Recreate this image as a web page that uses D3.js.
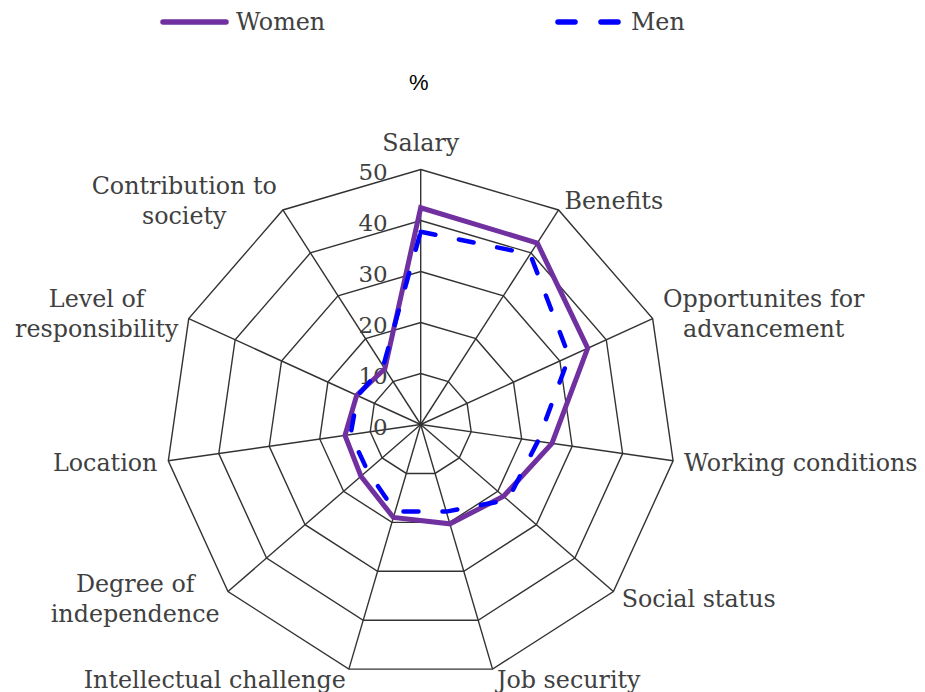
<!DOCTYPE html>
<html>
<head>
<meta charset="utf-8">
<script src="https://cdn.jsdelivr.net/npm/d3@7"></script>
<style>
  html, body { margin: 0; padding: 0; background: #fff; }
  svg { display: block; }
</style>
</head>
<body>
<svg id="chart" width="925" height="692"></svg>
<script>
// ---- data ----
const categories = ["Salary", "Benefits", "Opportunites for advancement", "Working conditions",
  "Social status", "Job security", "Intellectual challenge", "Degree of independence",
  "Location", "Level of responsibility", "Contribution to society"];
const categoryLines = [["Salary"], ["Benefits"], ["Opportunites for", "advancement"], ["Working conditions"],
  ["Social status"], ["Job security"], ["Intellectual challenge"], ["Degree of", "independence"],
  ["Location"], ["Level of", "responsibility"], ["Contribution to", "society"]];
const women = [42.5, 42.3, 36, 26, 21.5, 20.3, 19, 15.5, 15, 13.8, 13];
const men   = [37.8, 39.7, 32, 23.2, 22.6, 17.8, 17.8, 13.8, 13.9, 13.6, 13.6];
const tickValues = [0, 10, 20, 30, 40, 50];
const seriesNames = ["Women", "Men"];
const unitLabel = "%";

// ---- layout ----
const svg = d3.select("#chart");
const cx = 420.7, cy = 424.5, R = 255;
const serif = "'DejaVu Serif', serif";
const textColor = "#404040";
const gridColor = "#333333";
const womenColor = "#7030A0";
const menColor = "#0000FF";
const fs = 23.8;

const r = d3.scaleLinear().domain([0, 50]).range([0, R]);
const step = 2 * Math.PI / categories.length;
const ang = (i) => i * step;

const g = svg.append("g").attr("transform", `translate(${cx},${cy})`);

// rings
const ringLine = d3.lineRadial().angle((d, i) => ang(i)).radius(d => r(d)).curve(d3.curveLinearClosed);
tickValues.filter(v => v > 0).forEach(v => {
  g.append("path")
    .attr("d", ringLine(categories.map(() => v)))
    .attr("fill", "none")
    .attr("stroke", gridColor)
    .attr("stroke-width", 1.4);
});
// spokes
categories.forEach((c, i) => {
  const a = ang(i);
  g.append("line")
    .attr("x1", 0).attr("y1", 0)
    .attr("x2", r(50) * Math.sin(a)).attr("y2", -r(50) * Math.cos(a))
    .attr("stroke", gridColor)
    .attr("stroke-width", 1.4);
});

// tick labels
tickValues.forEach(v => {
  g.append("text")
    .attr("x", -33)
    .attr("y", -r(v) + 2)
    .attr("text-anchor", "end")
    .attr("dominant-baseline", "central")
    .attr("font-family", serif)
    .attr("font-size", 23)
    .attr("fill", textColor)
    .text(v);
});

// series
const seriesLine = d3.lineRadial().angle((d, i) => ang(i)).radius(d => r(d)).curve(d3.curveLinearClosed);
g.append("path")
  .attr("d", seriesLine(women))
  .attr("fill", "none")
  .attr("stroke", womenColor)
  .attr("stroke-width", 5)
  .attr("stroke-linejoin", "miter");
g.append("path")
  .attr("d", seriesLine(men))
  .attr("fill", "none")
  .attr("stroke", menColor)
  .attr("stroke-width", 4.5)
  .attr("stroke-linecap", "round")
  .attr("stroke-dasharray", "15,24");

// category labels
const pad = 11;
const lineH = 30;
categories.forEach((c, i) => {
  const a = ang(i);
  const s = Math.sin(a), co = Math.cos(a);
  const vx = r(50) * s, vy = -r(50) * co;
  const lines = categoryLines[i];
  const lab = g.append("g");
  const t = lab.append("text")
    .attr("font-family", serif)
    .attr("font-size", fs)
    .attr("fill", textColor)
    .attr("text-anchor", "middle");
  lines.forEach((ln, k) => {
    t.append("tspan").attr("x", 0).attr("y", (k - (lines.length - 1) / 2) * lineH).attr("dy", "0.35em").text(ln);
  });
  const bb = t.node().getBBox();
  let x = vx + pad * s, y = vy - pad * co;
  let tx;
  if (Math.abs(s) < 0.1) tx = x;
  else if (s > 0) tx = x + bb.width / 2;
  else tx = x - bb.width / 2;
  let ty = y;
  if (Math.abs(s) < 0.1 && co > 0) ty = y - 16;
  lab.attr("transform", `translate(${tx},${ty})`);
});

// unit label
svg.append("text")
  .attr("x", cx - 2)
  .attr("y", 82)
  .attr("text-anchor", "middle")
  .attr("dominant-baseline", "central")
  .attr("font-family", "'Liberation Sans', Arial, sans-serif")
  .attr("font-size", 22)
  .attr("fill", "#000")
  .text(unitLabel);

// legend
const leg = svg.append("g");
leg.append("line").attr("x1", 163).attr("x2", 226).attr("y1", 22).attr("y2", 22)
  .attr("stroke", womenColor).attr("stroke-width", 5.5).attr("stroke-linecap", "round");
leg.append("text").attr("x", 236).attr("y", 22).attr("dominant-baseline", "central")
  .attr("font-family", serif).attr("font-size", fs).attr("fill", textColor).text(seriesNames[0]);
leg.append("line").attr("x1", 558).attr("x2", 618).attr("y1", 22).attr("y2", 22)
  .attr("stroke", menColor).attr("stroke-width", 5.5).attr("stroke-linecap", "round")
  .attr("stroke-dasharray", "17,26");
leg.append("text").attr("x", 631).attr("y", 22).attr("dominant-baseline", "central")
  .attr("font-family", serif).attr("font-size", fs).attr("fill", textColor).text(seriesNames[1]);
</script>
</body>
</html>
